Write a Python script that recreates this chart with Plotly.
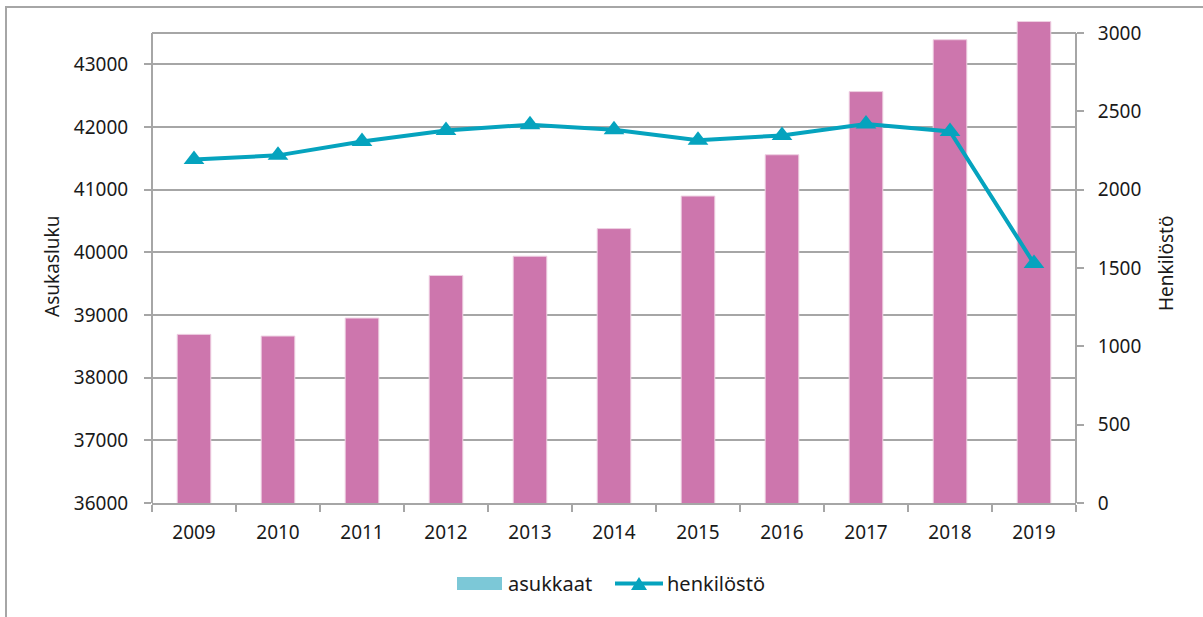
import plotly.graph_objects as go

years = ["2009", "2010", "2011", "2012", "2013", "2014", "2015", "2016", "2017", "2018", "2019"]
asukkaat = [38691, 38664, 38951, 39631, 39938, 40379, 40898, 41557, 42565, 43393, 43683]
henkilosto = [2193, 2219, 2308, 2378, 2415, 2383, 2315, 2346, 2419, 2372, 1528]

left_ticks = [36000, 37000, 38000, 39000, 40000, 41000, 42000, 43000]
right_ticks = [0, 500, 1000, 1500, 2000, 2500, 3000]
LEFT_MAX = 43500
RIGHT_MAX = 3000

BAR_COLOR = "#CD76AD"
LINE_COLOR = "#05A3BE"
LEGEND_BAR = "#7CC8D7"
GRAY = "#A6A6A6"
FONT = "Noto Sans"
FS = 19

W, H = 1203, 617
L, R, B = 152, 1076, 503
FRAME_TOP = 33          # pixel row of the top frame line (LEFT_MAX / RIGHT_MAX)
T = 14                  # plot area extended upward so the overflowing bar shows

scale = (B - T) / (B - FRAME_TOP)
left_range = [36000, 36000 + (LEFT_MAX - 36000) * scale]
right_range = [0, RIGHT_MAX * scale]


def px(x):
    return (x - L) / (R - L)


def py(y):
    return (B - y) / (B - T)


fig = go.Figure()
fig.add_trace(go.Bar(
    x=years, y=asukkaat, name="asukkaat", width=0.4,
    marker=dict(color=BAR_COLOR, line=dict(color="#EED0E2", width=1)),
    showlegend=False,
))
fig.add_trace(go.Scatter(
    x=years, y=henkilosto, name="henkilöstö", yaxis="y2", mode="lines+markers",
    line=dict(color=LINE_COLOR, width=4),
    marker=dict(symbol="triangle-up", size=18, color=LINE_COLOR),
    showlegend=False, cliponaxis=False,
))

axis_font = dict(family=FONT, size=FS, color="#1a1a1a")
leg_font = dict(family=FONT, size=20, color="#1a1a1a")

fig.update_layout(
    width=W, height=H,
    margin=dict(l=L, r=W - R, t=T, b=H - B, autoexpand=False),
    paper_bgcolor="white", plot_bgcolor="white",
    font=axis_font,
    xaxis=dict(
        type="category", range=[-0.5, len(years) - 0.5], tickson="boundaries",
        ticks="outside", ticklen=7,
        tickcolor=GRAY, tickwidth=2, showline=True, linecolor=GRAY, linewidth=2,
        showgrid=False, tickfont=axis_font, ticklabelstandoff=11,
    ),
    yaxis=dict(
        range=left_range, tickvals=left_ticks, tickformat="d", ticks="outside",
        ticklen=7, tickcolor=GRAY, tickwidth=2, showline=False,
        showgrid=True, gridcolor=GRAY, gridwidth=1.5, zeroline=False,
        tickfont=axis_font, ticklabelstandoff=12,
    ),
    yaxis2=dict(
        range=right_range, tickvals=right_ticks, tickformat="d", overlaying="y",
        side="right", ticks="outside", ticklen=7, tickcolor=GRAY, tickwidth=2,
        showline=False, showgrid=False, zeroline=False, tickfont=axis_font,
        ticklabelstandoff=10,
    ),
    shapes=[
        # outer chart border
        dict(type="rect", xref="paper", yref="paper",
             x0=px(6), x1=px(1300), y0=py(7), y1=py(700),
             line=dict(color=GRAY, width=2), fillcolor="rgba(0,0,0,0)", layer="below"),
        # axis frame lines
        dict(type="line", xref="paper", yref="y", x0=0, x1=0,
             y0=36000, y1=LEFT_MAX, line=dict(color=GRAY, width=2)),
        dict(type="line", xref="paper", yref="y2", x0=1, x1=1,
             y0=0, y1=RIGHT_MAX, line=dict(color=GRAY, width=2)),
        dict(type="line", xref="paper", yref="y", x0=0, x1=1,
             y0=LEFT_MAX, y1=LEFT_MAX, line=dict(color=GRAY, width=2), layer="below"),
        # legend
        dict(type="rect", xref="paper", yref="paper",
             x0=px(457), x1=px(502), y0=py(590), y1=py(577),
             line=dict(width=0), fillcolor=LEGEND_BAR),
        dict(type="line", xref="paper", yref="paper",
             x0=px(615), x1=px(663), y0=py(583.5), y1=py(583.5),
             line=dict(color=LINE_COLOR, width=4)),
        dict(type="path", xref="paper", yref="paper",
             path=f"M {px(631)},{py(590)} L {px(647)},{py(590)} L {px(639)},{py(577)} Z",
             fillcolor=LINE_COLOR, line=dict(width=0)),
    ],
    annotations=[
        dict(text="asukkaat", xref="paper", yref="paper", x=px(506), y=py(583),
             xanchor="left", yanchor="middle", showarrow=False, font=leg_font),
        dict(text="henkilöstö", xref="paper", yref="paper", x=px(665), y=py(583),
             xanchor="left", yanchor="middle", showarrow=False, font=leg_font),
        dict(text="Asukasluku", xref="paper", yref="paper", x=px(52), y=py(267),
             xanchor="center", yanchor="middle", textangle=-90, showarrow=False,
             font=axis_font),
        dict(text="Henkilöstö", xref="paper", yref="paper", x=px(1166), y=py(264),
             xanchor="center", yanchor="middle", textangle=-90, showarrow=False,
             font=axis_font),
    ],
)

fig.write_html(
    "out.html",
    config={"displayModeBar": False},
    post_script="document.body.style.margin='0';document.body.style.padding='0';",
)
